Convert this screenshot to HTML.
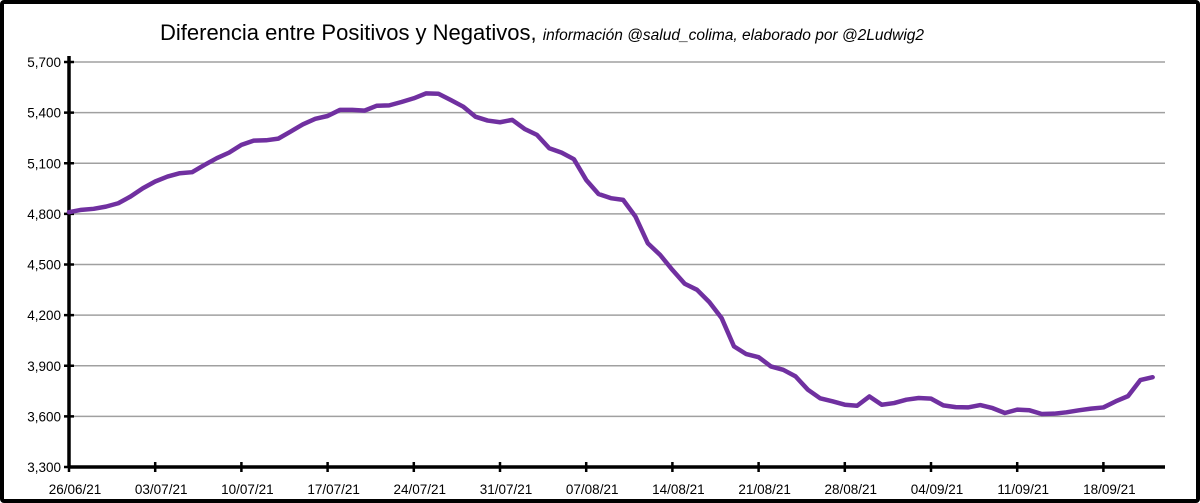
<!DOCTYPE html>
<html><head><meta charset="utf-8"><style>
html,body{margin:0;padding:0;background:#fff;}
#frame{position:absolute;left:0;top:0;width:1200px;height:503px;box-sizing:border-box;border:4px solid #000;border-radius:4px;background:#fff;}
svg{position:absolute;left:0;top:0;}
text{font-family:"Liberation Sans",sans-serif;}
</style></head><body>
<div id="frame"></div>
<svg id="chart" width="1200" height="503">
<text x="160" y="40" font-size="22" fill="#000">Diferencia entre Positivos y Negativos, <tspan font-size="15.5" font-style="italic">información @salud_colima, elaborado por @2Ludwig2</tspan></text>
</svg>
<script>
const yTicks=[3300,3600,3900,4200,4500,4800,5100,5400,5700];
const xTickLabels=["26/06/21","03/07/21","10/07/21","17/07/21","24/07/21","31/07/21","07/08/21","14/08/21","21/08/21","28/08/21","04/09/21","11/09/21","18/09/21"];
const values=[4810,4824,4830,4843,4863,4903,4952,4992,5021,5041,5047,5090,5130,5163,5209,5234,5236,5246,5288,5331,5363,5380,5416,5416,5412,5441,5443,5463,5485,5514,5512,5475,5436,5376,5353,5343,5357,5303,5268,5189,5163,5124,5001,4918,4893,4883,4784,4626,4557,4468,4386,4350,4277,4182,4015,3969,3951,3896,3876,3837,3758,3707,3689,3669,3663,3718,3669,3679,3699,3709,3705,3665,3655,3653,3667,3649,3620,3640,3636,3614,3616,3624,3636,3646,3653,3689,3720,3815,3832];
const svg=document.getElementById('chart');
const NS='http://www.w3.org/2000/svg';
const x0=69,x1=1165,y0=467,y1=62,dayW=86.2/7;
const xs=d=>x0+d*dayW;
const ys=v=>y0-(v-3300)/2400*(y0-y1);
function mk(t,a){const e=document.createElementNS(NS,t);for(const k in a)e.setAttribute(k,a[k]);svg.appendChild(e);return e;}
yTicks.forEach(v=>{
  if(v>3300){const g=mk('line',{x1:x0,x2:x1,y1:ys(v),y2:ys(v),stroke:'#a0a0a0','stroke-width':1.5});
  
  }
  const t=mk('line',{x1:x0-5,x2:x0+5,y1:ys(v),y2:ys(v),stroke:'#000','stroke-width':2.5});
  
  
  const l=mk('text',{x:x0-8,y:ys(v)+5,'font-size':13.5,'text-anchor':'end',fill:'#000'});
  l.textContent=v.toLocaleString('en-US');
  
  
});
xTickLabels.forEach((s,i)=>{
  const x=xs(i*7);
  const t=mk('line',{x1:x,x2:x,y1:y0-5,y2:y0+5,stroke:'#000','stroke-width':2.5});
  
  
  const l=mk('text',{x:x+6,y:y0+27,'font-size':13.5,'text-anchor':'middle',fill:'#000'});
  l.textContent=s;
  
  
});
const ya=mk('line',{x1:x0,x2:x0,y1:y1-6,y2:y0+1,stroke:'#000','stroke-width':3.5});


const xa=mk('line',{x1:x0-1,x2:x1,y1:y0,y2:y0,stroke:'#000','stroke-width':3.5});


const p=mk('polyline',{points:values.map((v,i)=>xs(i)+','+ys(v)).join(' '),fill:'none',stroke:'#7030a0','stroke-width':4.5,'stroke-linejoin':'round','stroke-linecap':'round'});


</script>
</body></html>
